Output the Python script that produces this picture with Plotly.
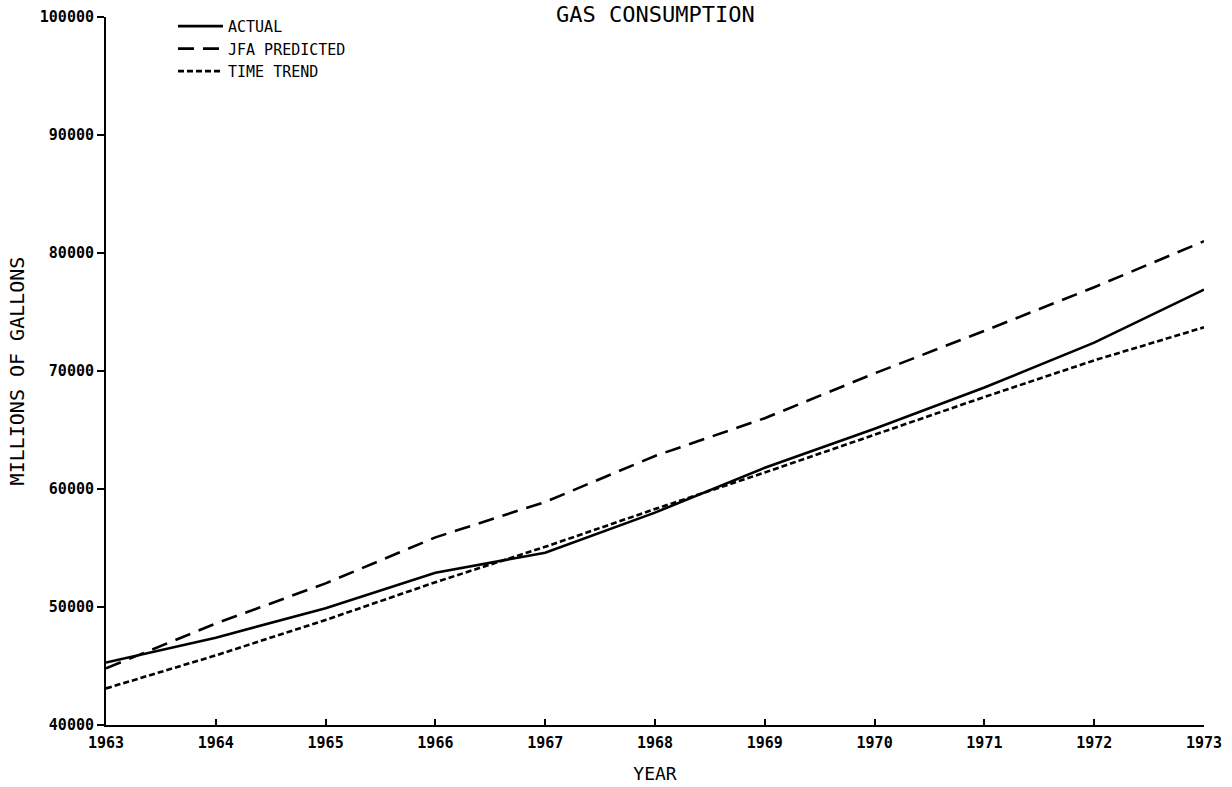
import plotly.graph_objects as go

years = [1963, 1964, 1965, 1966, 1967, 1968, 1969, 1970, 1971, 1972, 1973]
actual = [45300, 47400, 49900, 52900, 54600, 58000, 61800, 65100, 68600, 72400, 76900]
jfa_predicted = [44800, 48600, 52000, 55900, 58900, 62800, 66000, 69800, 73400, 77100, 81000]
time_trend = [43100, 45900, 48900, 52100, 55100, 58300, 61400, 64600, 67800, 70900, 73700]

y_ticks = [40000, 50000, 60000, 70000, 80000, 90000, 100000]

FONT = "DejaVu Sans Mono"

fig = go.Figure()
fig.add_trace(go.Scatter(x=years, y=actual, mode="lines", name="ACTUAL",
                         line=dict(color="black", width=2.6)))
fig.add_trace(go.Scatter(x=years, y=jfa_predicted, mode="lines", name="JFA PREDICTED",
                         line=dict(color="black", width=2.6, dash="16px,9px")))
fig.add_trace(go.Scatter(x=years, y=time_trend, mode="lines", name="TIME TREND",
                         line=dict(color="black", width=2.6, dash="6px,3px")))

fig.update_layout(
    width=1232, height=787,
    margin=dict(l=106, r=28, t=17, b=62, autoexpand=False),
    paper_bgcolor="white", plot_bgcolor="white",
    font=dict(family=FONT, color="black"),
    showlegend=True,
    legend=dict(x=0.061, y=1.010, xanchor="left", yanchor="top",
                bgcolor="rgba(0,0,0,0)", font=dict(family=FONT, size=15, color="black"),
                tracegroupgap=0, itemwidth=45),
    annotations=[dict(text="GAS CONSUMPTION", xref="paper", yref="paper",
                      x=0.5, y=1.024, xanchor="center", yanchor="top",
                      showarrow=False, font=dict(family=FONT, size=22, color="black"))],
)

fig.update_xaxes(
    range=[1963, 1973], tickvals=years, ticktext=[str(y) for y in years],
    showgrid=False, zeroline=False, showline=True, linecolor="black", linewidth=2,
    ticks="inside", ticklen=6, tickwidth=2, tickcolor="black", automargin=False,
    ticklabelstandoff=3,
    tickfont=dict(family=FONT, size=15, color="black", weight="bold"),
    title=dict(text="YEAR", font=dict(family=FONT, size=18, color="black"), standoff=16),
)
fig.update_yaxes(
    range=[40000, 100000], tickvals=y_ticks, ticktext=[str(v) for v in y_ticks],
    showgrid=False, zeroline=False, showline=True, linecolor="black", linewidth=2,
    ticks="outside", ticklen=7, tickwidth=2, tickcolor="black", automargin=False,
    tickfont=dict(family=FONT, size=15, color="black", weight="bold"),
    title=dict(text="MILLIONS OF GALLONS", font=dict(family=FONT, size=20, color="black"), standoff=10),
)

fig.write_html("out.html", config={"displayModeBar": False},
               post_script="document.body.style.margin='0px';")
